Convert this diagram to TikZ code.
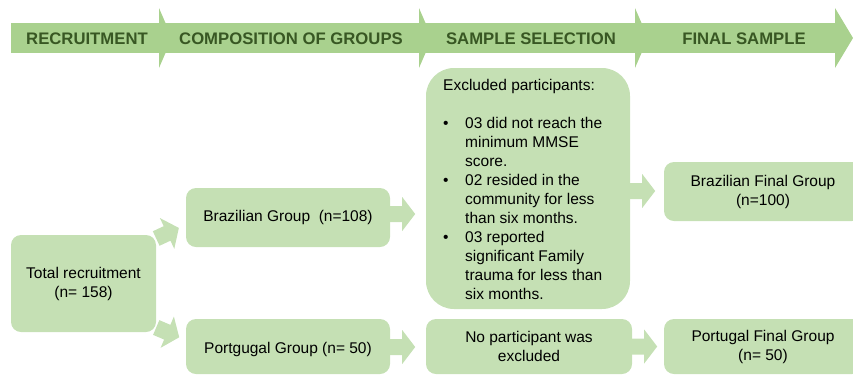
\documentclass[tikz,border=0pt]{standalone}
\usepackage{fontspec}
\setmainfont{Liberation Sans}
\usetikzlibrary{calc}
\definecolor{band}{HTML}{A9D18E}
\definecolor{bandtext}{HTML}{385723}
\definecolor{boxfill}{HTML}{C5E0B4}
\newcommand\bodyfont{\fontsize{15.5}{19}\selectfont}
\begin{document}
\begin{tikzpicture}[x=1pt,y=-1pt,
  box/.style={fill=boxfill, rounded corners=10pt, font=\bodyfont, align=center, inner sep=0pt},
  hdr/.style={font=\fontsize{16.7}{20}\selectfont\bfseries, text=bandtext, inner sep=0pt, anchor=base},
  blk/.pic={\fill[boxfill] (0,-8) -- (12,-8) -- (12,-17) -- (25,0) -- (12,17) -- (12,8) -- (0,8) -- cycle;}]
\useasboundingbox (0,0) rectangle (853,376);
\clip (0,0) rectangle (853,376);
% header band
\fill[band] (11,23) rectangle (840,53);
\foreach \b in {159,419,635} {\fill[band] (\b,8) -- (\b+13,38) -- (\b,68) -- cycle;}
\fill[band] (835,8) -- (853,38) -- (835,68) -- cycle;
\node[hdr] (h1) at (87,44) {RECRUITMENT};
\node[hdr] (h2) at (291,44) {COMPOSITION OF GROUPS};
\node[hdr] (h3) at (531,44) {SAMPLE SELECTION};
\node[hdr] (h4) at (744,44) {FINAL SAMPLE};
% boxes
\node[box, minimum width=145, minimum height=97] (tot) at (83.5,283.5) {Total recruitment\\(n= 158)};
\node[box, minimum width=204, minimum height=59] (bra) at (288,217.5) {Brazilian Group\ \ (n=108)};
\node[box, minimum width=204, minimum height=55, text depth=0pt] (por) at (288,346.5) {\raisebox{-3pt}{Portgugal Group (n= 50)}};
\node[box, rounded corners=28pt, minimum width=204, minimum height=241] (ex) at (528,188.5) {};
\node[anchor=base west, inner sep=0pt, font=\bodyfont] (extext) at (443,90) {%
\begin{tabular}[t]{@{}p{22pt}@{}l@{}}
\multicolumn{2}{@{}l@{}}{Excluded participants:}\\[19pt]
\textbullet & 03 did not reach the\\
 & minimum MMSE\\
 & score.\\
\textbullet & 02 resided in the\\
 & community for less\\
 & than six months.\\
\textbullet & 03 reported\\
 & significant Family\\
 & trauma for less than\\
 & six months.
\end{tabular}};
\node[box, minimum width=206, minimum height=55] (nop) at (529,346.5) {No participant was\\excluded};
\node[box, minimum width=198, minimum height=59] (bf) at (763,191.5) {Brazilian Final Group\\(n=100)};
\node[box, minimum width=198, minimum height=55] (pf) at (763,346.5) {Portugal Final Group\\(n= 50)};
% block arrows
\coordinate (a1) at ($(tot.east)+(0,-45)$);
\coordinate (a2) at ($(tot.east)+(0,44)$);
\coordinate (a3) at ($(bra.east)+(0,-3.5)$);
\coordinate (a4) at ($(ex.east)+(0,2.5)$);
\coordinate (a5) at ($(por.east)+(0,0.5)$);
\coordinate (a6) at ($(nop.east)+(0,0)$);
\pic[rotate=25] at (a1) {blk};
\pic[rotate=-23] at (a2) {blk};
\pic at (a3) {blk};
\pic at (a4) {blk};
\pic at (a5) {blk};
\pic at (a6) {blk};
\end{tikzpicture}
\end{document}
